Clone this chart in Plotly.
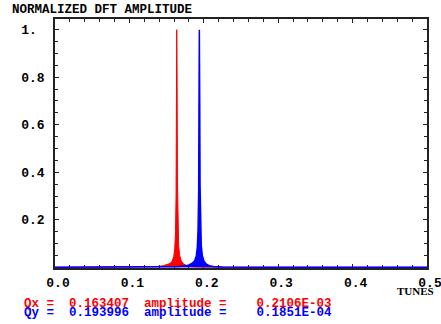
import plotly.graph_objects as go

# Normalized DFT amplitude spectra (tune vs amplitude)
qx_tune = [0.0, 0.120, 0.136, 0.145, 0.150, 0.1545, 0.1575, 0.1596, 0.1610, 0.1620, 0.1627, 0.1631,
           0.1636, 0.1641, 0.1646, 0.1652, 0.1662, 0.1676, 0.1697, 0.1727, 0.1770, 0.183, 0.195, 0.25, 0.5]
qx_amp = [0.0, 0.0008, 0.003, 0.006, 0.010, 0.016, 0.026, 0.045, 0.080, 0.15, 0.30, 0.62,
          1.0, 0.80, 0.36, 0.16, 0.09, 0.05, 0.027, 0.014, 0.007, 0.003, 0.0012, 0.0003, 0.0]

qy_tune = [0.0, 0.150, 0.166, 0.175, 0.180, 0.1845, 0.1877, 0.1899, 0.1913, 0.1923, 0.1931, 0.1935,
           0.1940, 0.1945, 0.1950, 0.1956, 0.1966, 0.1980, 0.2001, 0.2031, 0.2074, 0.213, 0.225, 0.28, 0.5]
qy_amp = [0.0, 0.0008, 0.003, 0.006, 0.010, 0.017, 0.028, 0.048, 0.085, 0.16, 0.32, 0.66,
          1.0, 0.72, 0.34, 0.16, 0.09, 0.05, 0.027, 0.014, 0.007, 0.003, 0.0012, 0.0003, 0.0]

x_tickvals = [0.0, 0.1, 0.2, 0.3, 0.4, 0.5]
x_ticktext = ["0.0", "0.1", "0.2", "0.3", "0.4", "0.5"]
y_tickvals = [0.2, 0.4, 0.6, 0.8, 1.0]
y_ticktext = ["0.2", "0.4", "0.6", "0.8", "1.\u00a0"]

title_text = "NORMALIZED DFT AMPLITUDE"
xlabel_text = "TUNES"
qx_line = "Qx =  0.163407  amplitude =    0.2106E-03"
qy_line = "Qy =  0.193996  amplitude =    0.1851E-04"

RED = "#ff0000"
BLUE = "#0000ff"
MONO = "Liberation Mono"

fig = go.Figure()
fig.add_trace(go.Scatter(x=qx_tune, y=qx_amp, mode="lines", line=dict(color=RED, width=1),
                         fill="tozeroy", fillcolor=RED, showlegend=False))
fig.add_trace(go.Scatter(x=qy_tune, y=qy_amp, mode="lines", line=dict(color=BLUE, width=1.5),
                         fill="tozeroy", fillcolor=BLUE, showlegend=False))

L, R, T, B = 55, 14, 19, 56
W, H = 441, 324
pw, ph = W - L - R, H - T - B

def px(xp):
    return (xp - L) / pw

def py(yp):
    return (H - B - yp) / ph

axis_common = dict(showline=True, linecolor="#222222", linewidth=1.5, mirror="ticks",
                   ticks="inside", ticklen=4, tickcolor="#222222", tickwidth=1,
                   showgrid=False, zeroline=False, layer="below traces", automargin=False,
                   tickfont=dict(family=MONO, size=13, color="black", weight="bold"))

fig.update_layout(
    width=W, height=H,
    margin=dict(l=L, r=R, t=T, b=B, autoexpand=False),
    paper_bgcolor="white", plot_bgcolor="white",
    xaxis=dict(range=[0, 0.5], tickvals=x_tickvals, ticktext=x_ticktext,
               minor=dict(dtick=0.02, tick0=0, ticks="inside", ticklen=3, tickcolor="#222222"),
               ticklabelshift=3, ticklabelstandoff=2, ticklabeloverflow="allow", **axis_common),
    yaxis=dict(range=[-0.003, 1.045], tickvals=y_tickvals, ticktext=y_ticktext,
               minor=dict(dtick=0.05, tick0=0, ticks="inside", ticklen=3, tickcolor="#222222"),
               ticklabelstandoff=6, **axis_common),
    annotations=[
        dict(text=title_text, x=px(10), y=py(10), xref="paper", yref="paper",
             xanchor="left", yanchor="middle", showarrow=False,
             font=dict(family=MONO, size=12.5, color="black", weight="bold")),
        dict(text=xlabel_text, x=px(415), y=py(291), xref="paper", yref="paper",
             xanchor="center", yanchor="middle", showarrow=False,
             font=dict(family="Liberation Serif", size=11, color="black", weight="bold")),
        dict(text=qx_line, x=px(22), y=py(303.5), xref="paper", yref="paper",
             xanchor="left", yanchor="middle", showarrow=False,
             font=dict(family=MONO, size=12.5, color=RED, weight="bold")),
        dict(text=qy_line, x=px(22), y=py(313), xref="paper", yref="paper",
             xanchor="left", yanchor="middle", showarrow=False,
             font=dict(family=MONO, size=12.5, color=BLUE, weight="bold")),
    ],
)

fig.write_html("out.html")
